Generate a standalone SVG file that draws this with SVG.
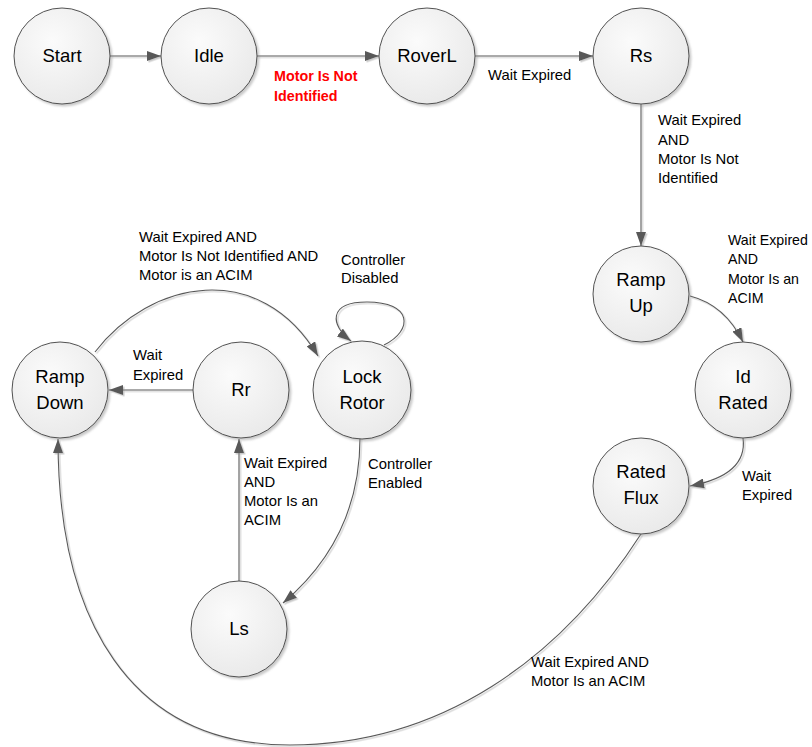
<svg xmlns="http://www.w3.org/2000/svg" width="812" height="747" viewBox="0 0 812 747">
<style>
.node circle{fill:url(#cg);stroke:#404040;stroke-width:0.9;filter:url(#ns)}
.nl{font-family:"Liberation Sans",Arial,sans-serif;font-size:18.5px;fill:#000;text-anchor:middle}
.el{font-family:"Liberation Sans",Arial,sans-serif;font-size:14.8px;fill:#000}
.sm{font-size:14.2px}
.red{font-weight:bold;fill:#ff0000;font-size:14.3px}
#connectors path{fill:none;stroke:#595959;stroke-width:1.1;marker-end:url(#ah)}
</style>
<defs>
<radialGradient id="cg" cx="0.4" cy="0.35" r="0.7">
<stop offset="0" stop-color="#fbfbfb"/>
<stop offset="1" stop-color="#e9e9e9"/>
</radialGradient>
<filter id="ns" x="-20%" y="-20%" width="150%" height="150%">
<feDropShadow dx="2" dy="2" stdDeviation="1.2" flood-color="#888" flood-opacity="0.45"/>
</filter>
<filter id="cs" x="-10%" y="-10%" width="120%" height="120%">
<feDropShadow dx="1.5" dy="1.5" stdDeviation="0.2" flood-color="#bbb" flood-opacity="0.8"/>
</filter>
<marker id="ah" viewBox="0 0 14 10" refX="14" refY="5" markerWidth="14" markerHeight="10" markerUnits="userSpaceOnUse" orient="auto">
<path d="M0,0 L14,5 L0,10 z" fill="#595959"/>
</marker>
</defs>
<rect width="812" height="747" fill="#fff"/>

<g id="connectors" filter="url(#cs)">
<path d="M110,56 L161,56"/>
<path d="M257,56 L379,56"/>
<path d="M475,56 L593,56"/>
<path d="M641,104 L641,246"/>
<path d="M690,296 Q725,305 743,342"/>
<path d="M743,438 Q748,475 690,486"/>
<path d="M641,534 C560,660 440,745 290,745 C130,745 58,620 58,439"/>
<path d="M95,352 C150,280 260,258 318,356"/>
<path d="M384,345 C414,330 412,302 367,302 C328,302 330,325 351,341"/>
<path d="M193,390 L109,390"/>
<path d="M360,438 C360,520 322,570 283,603"/>
<path d="M239,581 L239,439"/>
</g>

<g id="start" class="node"><circle cx="62" cy="56" r="48"/><text class="nl" x="62" y="62">Start</text></g>
<g id="idle" class="node"><circle cx="209" cy="56" r="48"/><text class="nl" x="209" y="62">Idle</text></g>
<g id="roverl" class="node"><circle cx="427" cy="56" r="48"/><text class="nl" x="427" y="62">RoverL</text></g>
<g id="rs" class="node"><circle cx="641" cy="56" r="48"/><text class="nl" x="641" y="62">Rs</text></g>
<g id="rampup" class="node"><circle cx="641" cy="294" r="48"/><text class="nl" x="641" y="286">Ramp</text><text class="nl" x="641" y="312">Up</text></g>
<g id="idrated" class="node"><circle cx="743" cy="390" r="48"/><text class="nl" x="743" y="383">Id</text><text class="nl" x="743" y="409">Rated</text></g>
<g id="ratedflux" class="node"><circle cx="641" cy="486" r="48"/><text class="nl" x="641" y="478">Rated</text><text class="nl" x="641" y="504">Flux</text></g>
<g id="rampdown" class="node"><circle cx="60" cy="390" r="48"/><text class="nl" x="60" y="383">Ramp</text><text class="nl" x="60" y="409">Down</text></g>
<g id="rr" class="node"><circle cx="241" cy="390" r="48"/><text class="nl" x="241" y="396">Rr</text></g>
<g id="lockrotor" class="node"><circle cx="362" cy="390" r="49"/><text class="nl" x="362" y="383">Lock</text><text class="nl" x="362" y="409">Rotor</text></g>
<g id="ls" class="node"><circle cx="239" cy="629" r="48"/><text class="nl" x="239" y="635">Ls</text></g>

<g id="labels">
<text class="el red" x="274" y="81">Motor Is Not</text>
<text class="el red" x="274" y="101">Identified</text>
<text class="el" x="488" y="80">Wait Expired</text>
<text class="el" x="658" y="125">Wait Expired</text>
<text class="el" x="658" y="145">AND</text>
<text class="el" x="658" y="164">Motor Is Not</text>
<text class="el" x="658" y="183">Identified</text>
<text class="el sm" x="728" y="245">Wait Expired</text>
<text class="el sm" x="728" y="264">AND</text>
<text class="el sm" x="728" y="284">Motor Is an</text>
<text class="el sm" x="728" y="303">ACIM</text>
<text class="el" x="742" y="481">Wait</text>
<text class="el" x="742" y="500">Expired</text>
<text class="el" x="139" y="242">Wait Expired AND</text>
<text class="el" x="139" y="261">Motor Is Not Identified AND</text>
<text class="el" x="139" y="280">Motor is an ACIM</text>
<text class="el" x="341" y="265">Controller</text>
<text class="el" x="341" y="283">Disabled</text>
<text class="el" x="133" y="360">Wait</text>
<text class="el" x="133" y="380">Expired</text>
<text class="el" x="244" y="468">Wait Expired</text>
<text class="el" x="244" y="487">AND</text>
<text class="el" x="244" y="506">Motor Is an</text>
<text class="el" x="244" y="525">ACIM</text>
<text class="el" x="368" y="469">Controller</text>
<text class="el" x="368" y="488">Enabled</text>
<text class="el" x="531" y="667">Wait Expired AND</text>
<text class="el" x="531" y="686">Motor Is an ACIM</text>
</g>
</svg>
